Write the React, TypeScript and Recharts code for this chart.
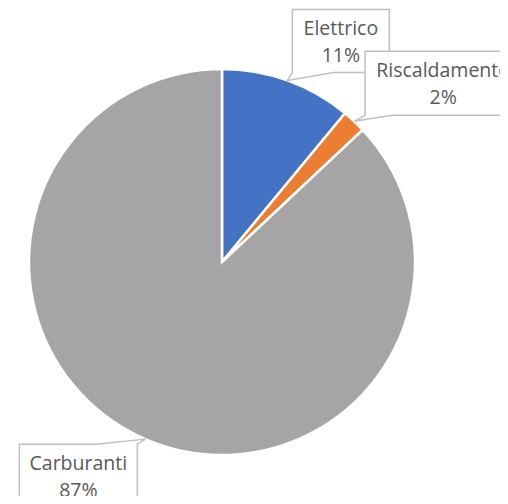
import React from "react"
import { PieChart, Pie, Cell } from "recharts"

const categories = ["Elettrico", "Riscaldamento", "Carburanti"]
const values = [11, 2, 87]
const colors = ["#4472C4", "#ED7D31", "#A5A5A5"]

const chartData = categories.map((name, i) => ({ name, value: values[i] }))

// callout boxes, placed relative to the slice edge point
const callouts = [
  { dx: 5, dy: -71, w: 97, h: 63, wedgeFrom: "bottom" },
  { dx: 11, dy: -70, w: 156, h: 64, wedgeFrom: "bottom" },
  { dx: -126, dy: 5, w: 118, h: 64, wedgeFrom: "top" },
]

const RAD = Math.PI / 180

const CalloutLabel = (props: any) => {
  const { cx, cy, midAngle, outerRadius, percent, index, name } = props
  const ax = cx + outerRadius * Math.cos(-midAngle * RAD)
  const ay = cy + outerRadius * Math.sin(-midAngle * RAD)
  const c = callouts[index]
  const x = ax + c.dx
  const y = ay + c.dy
  const { w, h } = c

  let d = ""
  if (c.wedgeFrom === "bottom") {
    const wx = index === 0 ? x + 41 : x + 27
    d = `M${x},${y} L${x + w},${y} L${x + w},${y + h} L${wx},${y + h} L${ax},${ay} L${x},${y + h} Z`
  } else {
    const wx = x + w - 41
    d = `M${x},${y} L${wx},${y} L${ax},${ay} L${x + w},${y} L${x + w},${y + h} L${x},${y + h} Z`
  }

  return (
    <g>
      <path d={d} fill="#FFFFFF" stroke="#BFBFBF" strokeWidth={1.5} />
      <text
        x={x + w / 2}
        y={y + 26}
        textAnchor="middle"
        fill="#595959"
        fontSize={19.5}
        fontFamily="Open Sans, sans-serif"
      >
        {name}
      </text>
      <text
        x={x + w / 2}
        y={y + 53}
        textAnchor="middle"
        fill="#595959"
        fontSize={19.5}
        fontFamily="Open Sans, sans-serif"
      >
        {Math.round(percent * 100)}%
      </text>
    </g>
  )
}

export default function App() {
  return (
    <div style={{ margin: -8, width: 508, height: 504, background: "#fff", overflow: "hidden" }}>
      <PieChart
        width={508}
        height={504}
        margin={{ top: 0, right: 0, bottom: 0, left: 0 }}
        style={{ overflow: "visible" }}
      >
        <Pie
          data={chartData}
          dataKey="value"
          nameKey="name"
          cx={222}
          cy={262}
          outerRadius={193}
          startAngle={90}
          endAngle={-270}
          stroke="#FFFFFF"
          strokeWidth={2.5}
          label={CalloutLabel}
          labelLine={false}
          isAnimationActive={false}
        >
          {chartData.map((entry, i) => (
            <Cell key={entry.name} fill={colors[i]} />
          ))}
        </Pie>
      </PieChart>
    </div>
  )
}
